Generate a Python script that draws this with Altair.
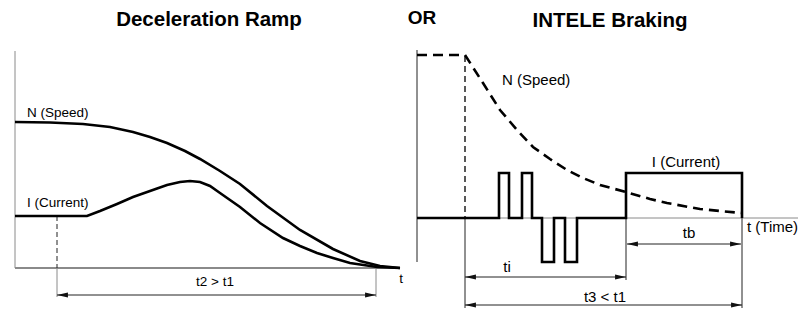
import altair as alt
import pandas as pd

# ---------------- data (diagram units: time to the right, level upwards) ----------------
# Left panel: Deceleration Ramp (time from the vertical axis, level above the time axis)
ramp_t = [0, 35, 68, 95, 118, 135, 152, 170, 185, 205, 225, 252, 285, 318, 345, 365, 385]
ramp_speed = [146, 145.5, 144, 141, 136, 131, 125, 117, 109, 97, 84, 62, 38, 19, 7, 2, 0]
ramp_cur_t = [0, 72, 85, 102, 118, 135, 152, 165, 175, 185, 195, 205, 225, 245, 268, 285, 302, 318, 335, 362, 385]
ramp_current = [52, 52, 57, 64, 71, 77, 83, 86, 87, 86, 82, 75, 61, 45, 30, 22, 15, 10, 5, 1, 0]

# Right panel: INTELE Braking
brake_speed_t = [0, 48, 66, 83, 100, 116, 133, 150, 166, 183, 209, 233, 250, 283, 303, 325]
brake_speed = [163, 163, 135, 108, 88, 71, 59, 48, 40, 33, 26, 19, 15, 9, 7, 5]
brake_cur_t = [0, 82, 82, 92, 92, 105, 105, 115, 115, 125, 125, 137, 137, 148, 148, 160, 160, 209, 209, 325, 325]
brake_current = [0, 0, 45, 45, 0, 0, 45, 45, 0, 0, -44, -44, 0, 0, -44, -44, 0, 0, 45, 45, 0]

# dimension arrows: label, start time, end time, level (below the axis is negative)
ramp_arrows = [("t2 > t1", 42, 361, -27)]
brake_arrows = [("tb", 210, 324, -26), ("ti", 48, 209, -59), ("t3 < t1", 48, 325, -87)]

titles = ["Deceleration Ramp", "OR", "INTELE Braking"]

# ---------------- layout ----------------
W, H = 793, 301
L_OX, L_OY = 15, 268     # left panel axis origin (page px)
R_OX, R_OY = 417, 218    # right panel axis origin (page px)


def pts(ox, oy, ts, vs, name):
    return pd.DataFrame({"x": [ox + t for t in ts], "y": [oy - v for v in vs],
                         "i": list(range(len(ts))), "s": name})


curves = pd.concat([
    pts(L_OX, L_OY, ramp_t, ramp_speed, "ls"),
    pts(L_OX, L_OY, ramp_cur_t, ramp_current, "lc"),
    pts(R_OX, R_OY, brake_cur_t, brake_current, "rc"),
])
dashed = pts(R_OX, R_OY, brake_speed_t, brake_speed, "rs")

X = alt.X("x:Q", scale=alt.Scale(domain=[8, 8 + W], nice=False, zero=False), axis=None)
Y = alt.Y("y:Q", scale=alt.Scale(domain=[8, 8 + H], reverse=True, nice=False, zero=False), axis=None)


def seg_df(rows):
    return pd.DataFrame(rows, columns=["x", "y", "x2", "y2"])


# gray thin lines
gray_thin = seg_df([
    (L_OX, 51, L_OX, L_OY),
    (L_OX + 42, L_OY, L_OX + 42, L_OY + 29),
    (L_OX + 361, L_OY, L_OX + 361, L_OY + 29),
    (R_OX, R_OY, 798, R_OY),
])
gray_axis = seg_df([(L_OX, L_OY, 400, L_OY)])
dark_thin = seg_df(
    [(R_OX, 50, R_OX, 262),
     (R_OX + 48, R_OY, R_OX + 48, 308),
     (R_OX + 209, R_OY, R_OX + 209, 280),
     (R_OX + 325, R_OY, R_OX + 325, 308)]
    + [(L_OX + a, L_OY - lv, L_OX + b, L_OY - lv) for _, a, b, lv in ramp_arrows]
    + [(R_OX + a, R_OY - lv, R_OX + b, R_OY - lv) for _, a, b, lv in brake_arrows]
)
dash_thin = seg_df([(L_OX + 42, L_OY - 52, L_OX + 42, L_OY)])
dash_mid = seg_df([(R_OX + 48, R_OY - 162, R_OX + 48, R_OY)])

heads_l = pd.DataFrame(
    [(L_OX + a, L_OY - lv) for _, a, b, lv in ramp_arrows]
    + [(R_OX + a, R_OY - lv) for _, a, b, lv in brake_arrows], columns=["x", "y"])
heads_r = pd.DataFrame(
    [(L_OX + b, L_OY - lv) for _, a, b, lv in ramp_arrows]
    + [(R_OX + b, R_OY - lv) for _, a, b, lv in brake_arrows], columns=["x", "y"])


def rules(df, color, width, dash=None):
    kw = dict(color=color, strokeWidth=width)
    if dash:
        kw["strokeDash"] = dash
    return alt.Chart(df).mark_rule(**kw).encode(x=X, y=Y, x2="x2:Q", y2="y2:Q")


font = "Liberation Sans"

title_df = pd.DataFrame({"t": titles, "x": [209, 422, 610], "y": [26, 24, 27], "fs": [20.5, 19, 20.5]})
label_left = pd.DataFrame({
    "t": ["N (Speed)", "I (Current)", "N (Speed)", "t (Time)"],
    "x": [27, 27, 502, 747], "y": [117, 207, 85, 232], "fs": [13.5, 13.5, 15, 15]})
label_center = pd.DataFrame({
    "t": [a[0] for a in ramp_arrows] + ["t"] + ["I (Current)"] + [a[0] for a in brake_arrows],
    "x": [215, 401, 686, 689, 507, 605],
    "y": [286, 283, 167, 238, 272, 302],
    "fs": [13.5, 13.5, 15, 15, 15, 15]})


def texts(df, align, bold=False):
    return alt.Chart(df).mark_text(align=align, baseline="alphabetic", font=font,
                                   fontWeight="bold" if bold else "normal", color="black").encode(
        x=X, y=Y, text="t:N", size=alt.Size("fs:Q", scale=None, legend=None))


layers = [
    rules(gray_thin, "#8a8a8a", 1),
    rules(gray_axis, "#8a8a8a", 2),
    rules(dark_thin, "#222222", 1),
    rules(dash_thin, "#222222", 1, [5, 3]),
    rules(dash_mid, "#111111", 1.4, [6, 4]),
    alt.Chart(curves).mark_line(color="black", strokeWidth=2.6, strokeJoin="miter").encode(
        x=X, y=Y, detail="s:N", order="i:Q"),
    alt.Chart(dashed).mark_line(color="black", strokeWidth=2.6, strokeDash=[10, 6]).encode(
        x=X, y=Y, order="i:Q"),
    alt.Chart(heads_l).mark_point(shape="M0,0L2,-0.45L2,0.45Z", filled=True, size=120,
                                  color="#111111", opacity=1, strokeWidth=0).encode(x=X, y=Y),
    alt.Chart(heads_r).mark_point(shape="M0,0L-2,-0.45L-2,0.45Z", filled=True, size=120,
                                  color="#111111", opacity=1, strokeWidth=0).encode(x=X, y=Y),
    texts(title_df, "center", bold=True),
    texts(label_left, "left"),
    texts(label_center, "center"),
]

chart = alt.layer(*layers).properties(
    width=W, height=H, padding=0,
    autosize=alt.AutoSizeParams(type="none"),
    background="white",
).configure_view(stroke=None)

chart.save("out.html", embed_options={"renderer": "svg", "actions": False})
